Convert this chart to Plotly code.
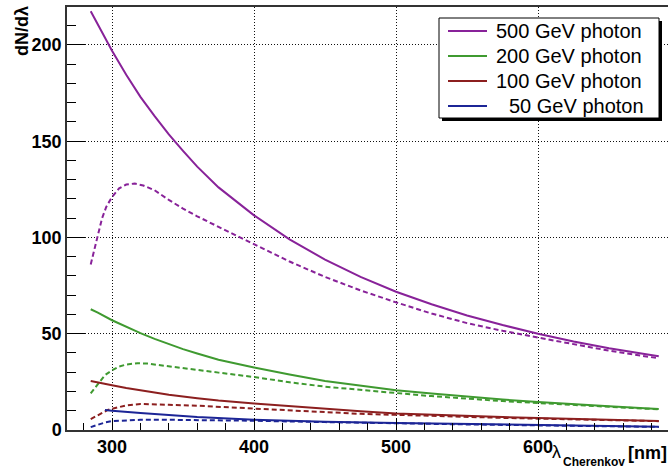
import plotly.graph_objects as go

# ---- data ----
labels = ["500 GeV photon", "200 GeV photon", "100 GeV photon", "50 GeV photon"]
colors = ["#882299", "#3f9a30", "#8c1f1f", "#1c2596"]

# solid curves
wl_500 = [285, 290, 300, 310, 320, 330, 340, 350, 360, 375, 400, 425, 450, 475, 500, 525, 550, 575, 600, 625, 650, 675, 685]
s_500 = [217.5, 210.5, 197, 184.5, 173, 163, 153.5, 145, 136.8, 126, 111.5, 99, 88.5, 79.5, 71.8, 65.3, 59.5, 54.5, 50, 46, 42.5, 39.5, 38.3]

wl_200 = [285, 290, 300, 310, 320, 330, 340, 350, 360, 375, 400, 425, 450, 475, 500, 525, 550, 575, 600, 625, 650, 675, 685]
s_200 = [62.7, 61, 57, 53.5, 50.3, 47.3, 44.5, 42, 39.7, 36.5, 32.5, 28.8, 25.5, 23, 20.7, 18.9, 17.3, 15.8, 14.5, 13.3, 12.3, 11.3, 10.9]

wl_100 = [285, 290, 300, 310, 320, 340, 360, 375, 400, 425, 450, 475, 500, 525, 550, 575, 600, 625, 650, 685]
s_100 = [25.4, 24.6, 23.2, 21.8, 20.5, 18.3, 16.5, 15.3, 13.8, 12.4, 11, 9.8, 8.6, 7.9, 7.2, 6.7, 6.2, 5.7, 5.3, 4.7]

wl_50 = [295, 300, 320, 340, 360, 400, 450, 500, 550, 600, 650, 685]
s_50 = [10.4, 10.0, 8.8, 7.6, 6.7, 5.3, 4.3, 3.7, 3.2, 2.8, 2.1, 1.7]

# dashed curves
wd_500 = [285, 288, 290, 293, 296, 300, 305, 310, 316, 322, 330, 340, 350, 360, 375, 400, 425, 450, 475, 500, 525, 550, 575, 600, 625, 650, 675, 685]
d_500 = [86, 95, 100, 110, 116, 121, 125.5, 127.5, 128, 127, 124.5, 119.5, 115, 111, 105.5, 96.5, 87.5, 79.5, 72.5, 66.3, 60.5, 55.5, 51.5, 48, 44.5, 41.2, 38.3, 37.3]

wd_200 = [285, 290, 295, 300, 305, 310, 318, 325, 340, 350, 360, 375, 400, 425, 450, 475, 500, 525, 550, 575, 600, 625, 650, 675, 685]
d_200 = [19, 24, 28.5, 31, 33, 34, 34.7, 34.5, 33.2, 32.3, 31.3, 29.8, 27.5, 24.8, 22.5, 20.7, 19.2, 17.6, 16.2, 15, 14, 12.9, 12, 11.1, 10.8]

wd_100 = [285, 290, 297, 300, 310, 320, 330, 340, 360, 375, 400, 425, 450, 475, 500, 525, 550, 575, 600, 625, 650, 685]
d_100 = [5.7, 7.5, 10.4, 11, 12.8, 13.5, 13.4, 13.1, 12.6, 12.1, 11.3, 10.3, 9.3, 8.4, 7.8, 7.2, 6.7, 6.3, 5.9, 5.5, 5.1, 4.6]

wd_50 = [285, 290, 295, 300, 310, 320, 340, 360, 400, 450, 500, 550, 600, 650, 685]
d_50 = [1.5, 2.8, 3.9, 4.6, 5.1, 5.3, 5.3, 5.2, 4.8, 4.1, 3.4, 2.9, 2.4, 2.0, 1.6]

solid = [(wl_500, s_500), (wl_200, s_200), (wl_100, s_100), (wl_50, s_50)]
dashed = [(wd_500, d_500), (wd_200, d_200), (wd_100, d_100), (wd_50, d_50)]

x_ticks = [300, 400, 500, 600]
y_ticks = [0, 50, 100, 150, 200]

# ---- layout geometry (window pixels; the page's body margin is removed below) ----
W, H = 668, 470
ML, MR, MT, MB = 67, 0, 7, 40
PW, PH = W - ML - MR, H - MT - MB


def px(xw):
    return (xw - ML) / PW


def py(yw):
    return (H - MB - yw) / PH


fig = go.Figure()
for i in range(4):
    xs, ys = dashed[i]
    fig.add_trace(go.Scatter(x=xs, y=ys, mode="lines", showlegend=False,
                             line=dict(color=colors[i], width=2, dash="5px,3px")))
for i in range(4):
    xs, ys = solid[i]
    fig.add_trace(go.Scatter(x=xs, y=ys, mode="lines", name=labels[i], showlegend=False,
                             line=dict(color=colors[i], width=2)))

tickfont = dict(family="Liberation Sans", size=18, color="black", weight="bold")
fig.update_layout(
    width=W, height=H,
    margin=dict(l=ML, r=MR, t=MT, b=MB, autoexpand=False),
    paper_bgcolor="white", plot_bgcolor="white",
    showlegend=False,
    xaxis=dict(range=[268.3, 691.5], tickvals=x_ticks, ticks="inside", ticklen=12,
               tickcolor="black", showline=True, linecolor="#333", linewidth=1.5,
               mirror=True, showgrid=True, gridcolor="#111", griddash="1px,2px",
               gridwidth=1, zeroline=False, tickfont=tickfont, automargin=False,
               minor=dict(dtick=20, tick0=0, ticks="inside", ticklen=7, tickcolor="black", showgrid=False)),
    yaxis=dict(range=[0, 219.7], tickvals=y_ticks, ticks="inside", ticklen=18,
               tickcolor="black", showline=True, linecolor="#333", linewidth=1.5,
               showgrid=True, gridcolor="#111", griddash="1px,2px", gridwidth=1,
               zeroline=False, tickfont=tickfont, automargin=False,
               minor=dict(dtick=10, tick0=0, ticks="inside", ticklen=9, tickcolor="black", showgrid=False)),
)

# ---- legend box (drawn by hand to match the ROOT look) ----
box_l, box_r, box_t, box_b = 439, 659, 18, 118
fig.add_shape(type="rect", xref="paper", yref="paper",
              x0=px(box_l + 3), x1=px(box_r + 3), y0=py(box_b + 3), y1=py(box_t + 3),
              fillcolor="black", line=dict(width=0), layer="above")
fig.add_shape(type="rect", xref="paper", yref="paper",
              x0=px(box_l), x1=px(box_r), y0=py(box_b), y1=py(box_t),
              fillcolor="white", line=dict(color="black", width=1), layer="above")
row_y = [31, 56, 81, 106]
text_x = [494, 494, 494, 507]
for i in range(4):
    fig.add_shape(type="line", xref="paper", yref="paper",
                  x0=px(448), x1=px(487), y0=py(row_y[i]), y1=py(row_y[i]),
                  line=dict(color=colors[i], width=2), layer="above")
    fig.add_annotation(text=labels[i], xref="paper", yref="paper",
                       x=px(text_x[i]), y=py(row_y[i]), xanchor="left", yanchor="middle",
                       showarrow=False, font=dict(family="Liberation Sans", size=20, color="black"))

# ---- axis titles ----
fig.add_annotation(text="<b>dN/dλ</b>", xref="paper", yref="paper", x=px(22), y=py(4),
                   xanchor="center", yanchor="top", textangle=-90, showarrow=False,
                   font=dict(family="Liberation Sans", size=18, color="black"))
fig.add_annotation(text="λ", xref="paper", yref="paper", x=px(551), y=py(452),
                   xanchor="left", yanchor="middle", showarrow=False, borderpad=0,
                   font=dict(family="Liberation Sans", size=18, color="black"))
fig.add_annotation(text="<b>Cherenkov</b>", xref="paper", yref="paper", x=px(562), y=py(462),
                   xanchor="left", yanchor="middle", showarrow=False, borderpad=0,
                   font=dict(family="Liberation Sans", size=12, color="black"))
fig.add_annotation(text="<b>[nm]</b>", xref="paper", yref="paper", x=px(627), y=py(453),
                   xanchor="left", yanchor="middle", showarrow=False, borderpad=0,
                   font=dict(family="Liberation Sans", size=18, color="black"))

# remove the browser's default 8 px body margin so the 668x470 figure fills the window
fig.write_html("out.html", config=dict(displayModeBar=False),
               post_script="document.body.style.margin='0';document.body.style.overflow='hidden';")
